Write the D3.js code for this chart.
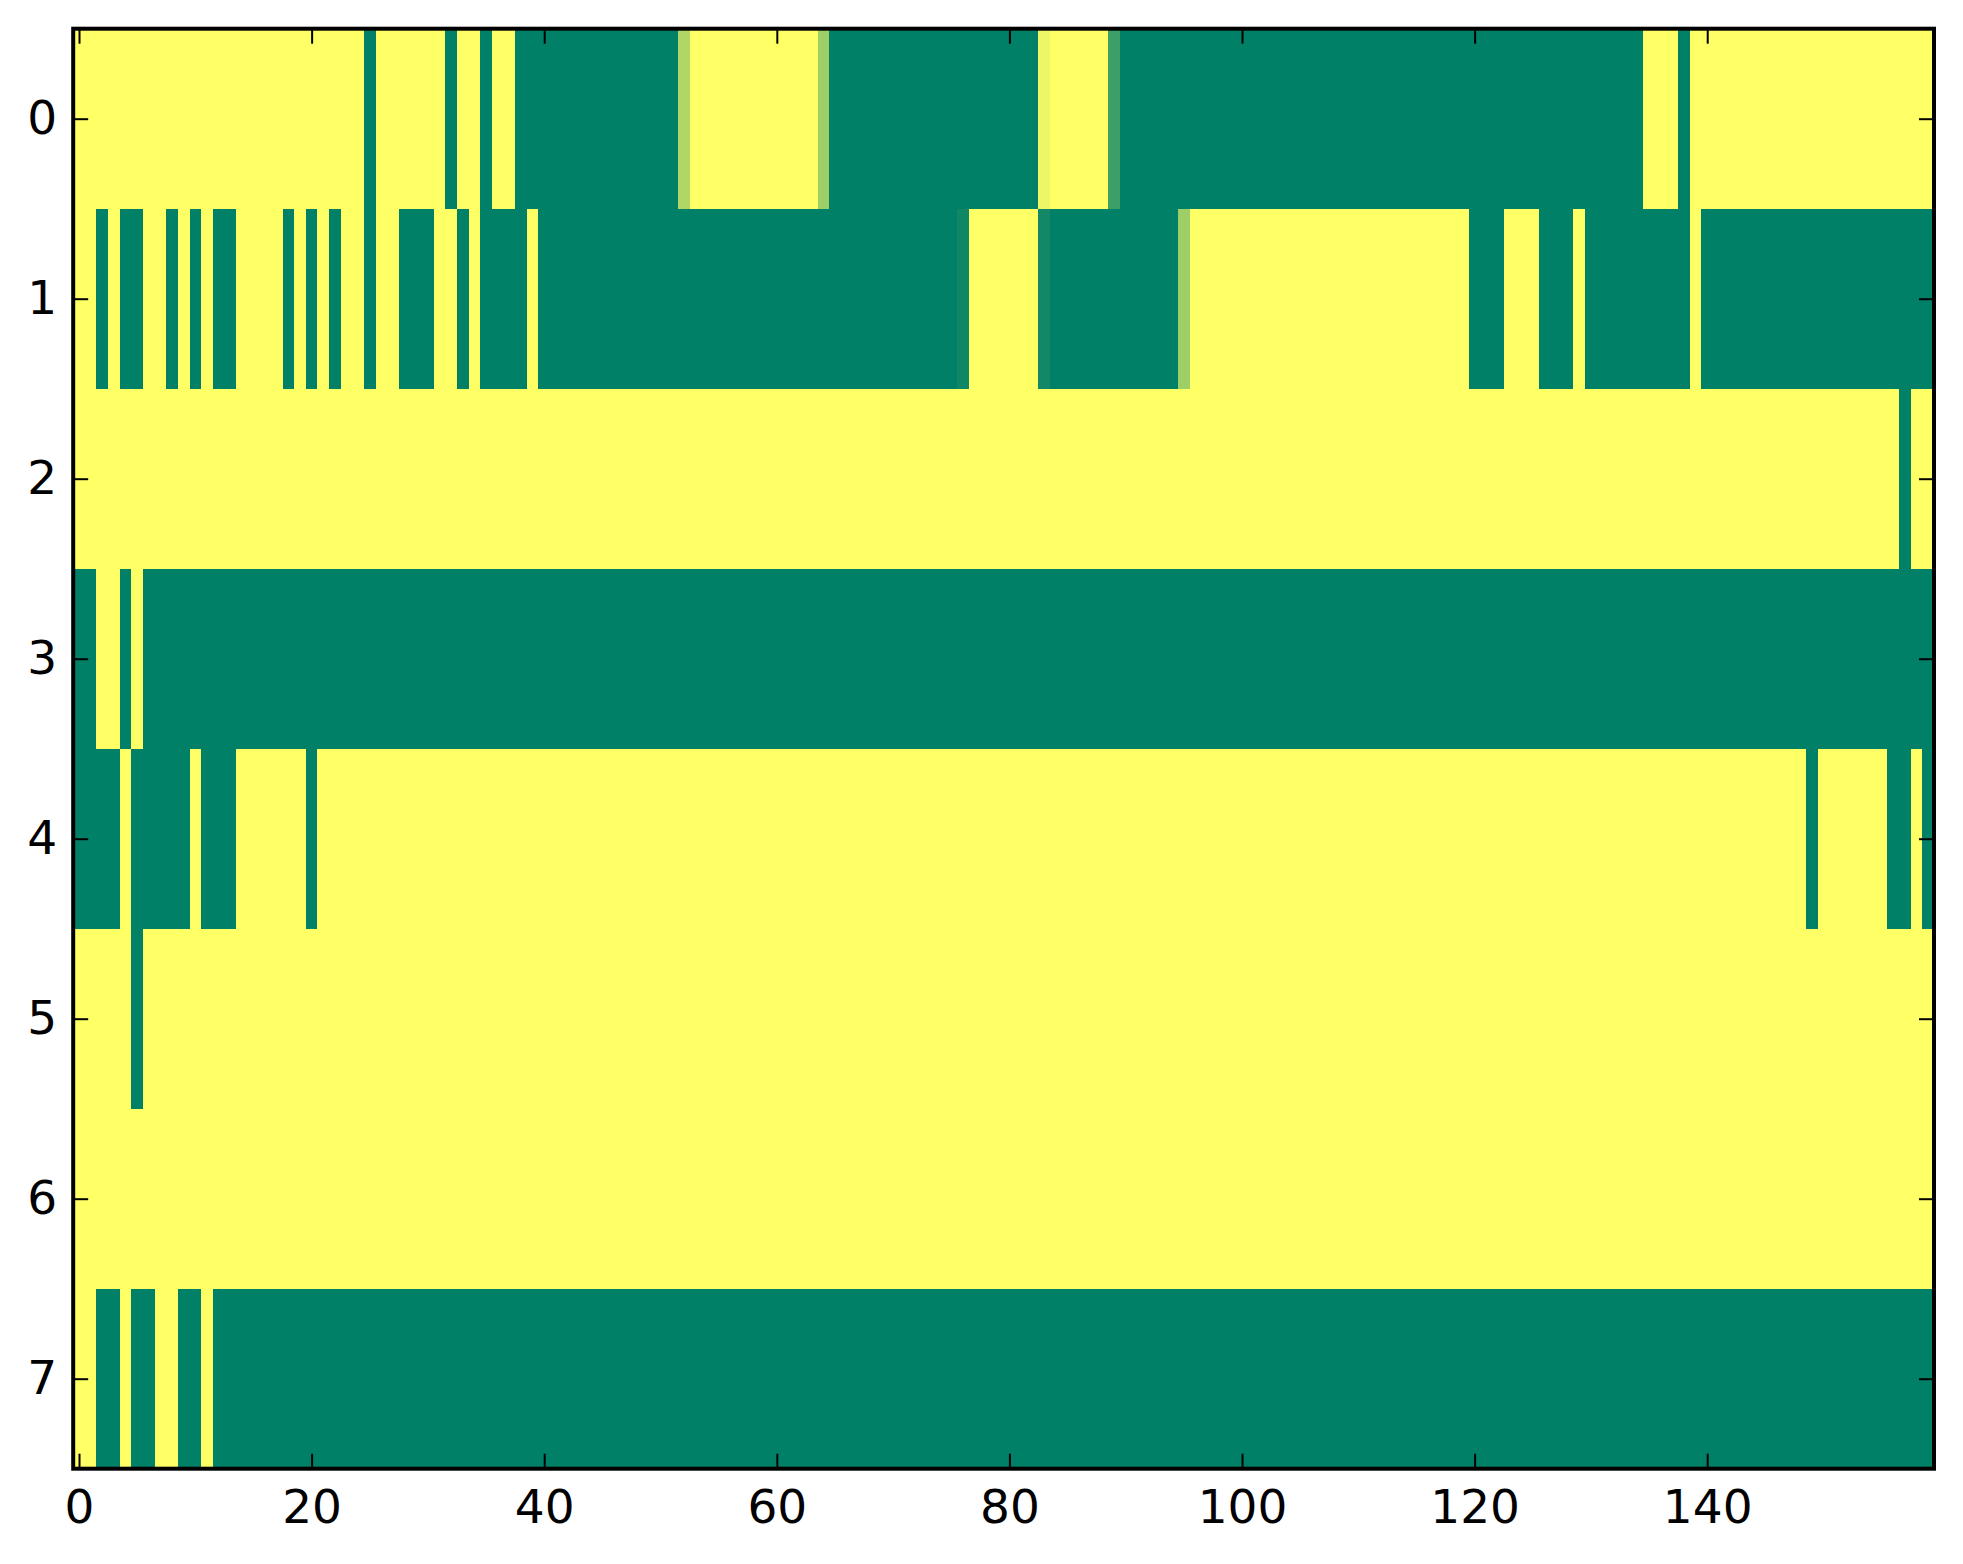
<!DOCTYPE html>
<html>
<head>
<meta charset="utf-8">
<script src="https://cdn.jsdelivr.net/npm/d3@7"></script>
<style>
  html, body { margin: 0; padding: 0; background: #ffffff; }
  svg { display: block; }
</style>
</head>
<body>
<svg id="chart" width="1963" height="1564"></svg>
<script>
// ---- data (rows 0..7, columns 0..159), values 0..1 ----
const rowLabels = [0, 1, 2, 3, 4, 5, 6, 7];
const xTickValues = [0, 20, 40, 60, 80, 100, 120, 140];
const yTickValues = [0, 1, 2, 3, 4, 5, 6, 7];

const row0 = [
  1,1,1,1,1,1,1,1,1,1,1,1,1,1,1,1,1,1,1,1,
  1,1,1,1,1,0,1,1,1,1,1,1,0,1,1,0,1,1,0,0,
  0,0,0,0,0,0,0,0,0,0,0,0,0.69,1,1,1,1,1,1,1,
  1,1,1,1,0.62,0,0,0,0,0,0,0,0,0,0,0,0,0,0,0,
  0,0,0,0.93,1,1,1,1,1,0.24,0,0,0,0,0,0,0,0,0,0,
  0,0,0,0,0,0,0,0,0,0,0,0,0,0,0,0,0,0,0,0,
  0,0,0,0,0,0,0,0,0,0,0,0,0,0,0,1,1,1,0,1,
  1,1,1,1,1,1,1,1,1,1,1,1,1,1,1,1,1,1,1,1
];
const row1 = [
  1,1,0,1,0,0,1,1,0,1,0,1,0,0,1,1,1,1,0,1,
  0,1,0,1,1,0,1,1,0,0,0,1,1,0,1,0,0,0,0,1,
  0,0,0,0,0,0,0,0,0,0,0,0,0,0,0,0,0,0,0,0,
  0,0,0,0,0,0,0,0,0,0,0,0,0,0,0,0,0.06,1,1,1,
  1,1,1,0.07,0,0,0,0,0,0,0,0,0,0,0,0.62,1,1,1,1,
  1,1,1,1,1,1,1,1,1,1,1,1,1,1,1,1,1,1,1,1,
  0,0,0,1,1,1,0,0,0,1,0,0,0,0,0,0,0,0,0,1,
  0,0,0,0,0,0,0,0,0,0,0,0,0,0,0,0,0,0,0,0
];
const row2 = [
  1,1,1,1,1,1,1,1,1,1,1,1,1,1,1,1,1,1,1,1,
  1,1,1,1,1,1,1,1,1,1,1,1,1,1,1,1,1,1,1,1,
  1,1,1,1,1,1,1,1,1,1,1,1,1,1,1,1,1,1,1,1,
  1,1,1,1,1,1,1,1,1,1,1,1,1,1,1,1,1,1,1,1,
  1,1,1,1,1,1,1,1,1,1,1,1,1,1,1,1,1,1,1,1,
  1,1,1,1,1,1,1,1,1,1,1,1,1,1,1,1,1,1,1,1,
  1,1,1,1,1,1,1,1,1,1,1,1,1,1,1,1,1,1,1,1,
  1,1,1,1,1,1,1,1,1,1,1,1,1,1,1,1,1,0,1,1
];
const row3 = [
  0,0,1,1,0,1,0,0,0,0,0,0,0,0,0,0,0,0,0,0,
  0,0,0,0,0,0,0,0,0,0,0,0,0,0,0,0,0,0,0,0,
  0,0,0,0,0,0,0,0,0,0,0,0,0,0,0,0,0,0,0,0,
  0,0,0,0,0,0,0,0,0,0,0,0,0,0,0,0,0,0,0,0,
  0,0,0,0,0,0,0,0,0,0,0,0,0,0,0,0,0,0,0,0,
  0,0,0,0,0,0,0,0,0,0,0,0,0,0,0,0,0,0,0,0,
  0,0,0,0,0,0,0,0,0,0,0,0,0,0,0,0,0,0,0,0,
  0,0,0,0,0,0,0,0,0,0,0,0,0,0,0,0,0,0,0,0
];
const row4 = [
  0,0,0,0,1,0,0,0,0,0,1,0,0,0,1,1,1,1,1,1,
  0,1,1,1,1,1,1,1,1,1,1,1,1,1,1,1,1,1,1,1,
  1,1,1,1,1,1,1,1,1,1,1,1,1,1,1,1,1,1,1,1,
  1,1,1,1,1,1,1,1,1,1,1,1,1,1,1,1,1,1,1,1,
  1,1,1,1,1,1,1,1,1,1,1,1,1,1,1,1,1,1,1,1,
  1,1,1,1,1,1,1,1,1,1,1,1,1,1,1,1,1,1,1,1,
  1,1,1,1,1,1,1,1,1,1,1,1,1,1,1,1,1,1,1,1,
  1,1,1,1,1,1,1,1,1,0,1,1,1,1,1,1,0,0,1,0
];
const row5 = [
  1,1,1,1,1,0,1,1,1,1,1,1,1,1,1,1,1,1,1,1,
  1,1,1,1,1,1,1,1,1,1,1,1,1,1,1,1,1,1,1,1,
  1,1,1,1,1,1,1,1,1,1,1,1,1,1,1,1,1,1,1,1,
  1,1,1,1,1,1,1,1,1,1,1,1,1,1,1,1,1,1,1,1,
  1,1,1,1,1,1,1,1,1,1,1,1,1,1,1,1,1,1,1,1,
  1,1,1,1,1,1,1,1,1,1,1,1,1,1,1,1,1,1,1,1,
  1,1,1,1,1,1,1,1,1,1,1,1,1,1,1,1,1,1,1,1,
  1,1,1,1,1,1,1,1,1,1,1,1,1,1,1,1,1,1,1,1
];
const row6 = [
  1,1,1,1,1,1,1,1,1,1,1,1,1,1,1,1,1,1,1,1,
  1,1,1,1,1,1,1,1,1,1,1,1,1,1,1,1,1,1,1,1,
  1,1,1,1,1,1,1,1,1,1,1,1,1,1,1,1,1,1,1,1,
  1,1,1,1,1,1,1,1,1,1,1,1,1,1,1,1,1,1,1,1,
  1,1,1,1,1,1,1,1,1,1,1,1,1,1,1,1,1,1,1,1,
  1,1,1,1,1,1,1,1,1,1,1,1,1,1,1,1,1,1,1,1,
  1,1,1,1,1,1,1,1,1,1,1,1,1,1,1,1,1,1,1,1,
  1,1,1,1,1,1,1,1,1,1,1,1,1,1,1,1,1,1,1,1
];
const row7 = [
  1,1,0,0,1,0,0,1,1,0,0,1,0,0,0,0,0,0,0,0,
  0,0,0,0,0,0,0,0,0,0,0,0,0,0,0,0,0,0,0,0,
  0,0,0,0,0,0,0,0,0,0,0,0,0,0,0,0,0,0,0,0,
  0,0,0,0,0,0,0,0,0,0,0,0,0,0,0,0,0,0,0,0,
  0,0,0,0,0,0,0,0,0,0,0,0,0,0,0,0,0,0,0,0,
  0,0,0,0,0,0,0,0,0,0,0,0,0,0,0,0,0,0,0,0,
  0,0,0,0,0,0,0,0,0,0,0,0,0,0,0,0,0,0,0,0,
  0,0,0,0,0,0,0,0,0,0,0,0,0,0,0,0,0,0,0,0
];
const rows = [row0, row1, row2, row3, row4, row5, row6, row7];

(function () {
  // ---- layout ----
  const plotLeft = 73.2, plotRight = 1934, plotTop = 28.7, plotBottom = 1468.7;
  const nCols = row0.length;

  const svg = d3.select("#chart");

  const x = d3.scaleLinear().domain([-0.5, nCols - 0.5]).range([plotLeft, plotRight]);
  const y = d3.scaleLinear().domain([-0.5, rowLabels.length - 0.5]).range([plotTop, plotBottom]);

  // matplotlib "summer" colormap
  const summer = v => d3.rgb(Math.round(255 * v), Math.round(255 * (0.5 + 0.5 * v)), 102).toString();
  const color = d3.scaleLinear().domain([0, 1]).range([0, 1]).clamp(true);

  const cells = [];
  rows.forEach((r, ri) => r.forEach((v, ci) => cells.push({ r: rowLabels[ri], c: ci, v })));

  svg.append("g")
    .attr("shape-rendering", "crispEdges")
    .selectAll("rect")
    .data(cells)
    .join("rect")
    .attr("x", d => x(d.c - 0.5))
    .attr("y", d => y(d.r - 0.5))
    .attr("width", d => x(d.c + 0.5) - x(d.c - 0.5) + 0.5)
    .attr("height", d => y(d.r + 0.5) - y(d.r - 0.5) + 0.5)
    .attr("fill", d => summer(color(d.v)));

  const fontSize = 47;
  const tickLen = 15;

  function styleAxis(g, showLabels) {
    g.select(".domain").remove();
    g.selectAll(".tick line").attr("stroke", "#000").attr("stroke-width", 2);
    g.selectAll(".tick text")
      .attr("fill", "#000")
      .style("font-family", "'DejaVu Sans', sans-serif")
      .style("font-size", fontSize + "px");
    if (!showLabels) g.selectAll(".tick text").remove();
  }

  svg.append("g")
    .attr("transform", `translate(0,${plotBottom})`)
    .call(d3.axisBottom(x).tickValues(xTickValues).tickSizeInner(-tickLen).tickSizeOuter(0).tickPadding(21).tickFormat(d3.format("d")))
    .call(g => styleAxis(g, true));

  svg.append("g")
    .attr("transform", `translate(0,${plotTop})`)
    .call(d3.axisTop(x).tickValues(xTickValues).tickSizeInner(-tickLen).tickSizeOuter(0))
    .call(g => styleAxis(g, false));

  svg.append("g")
    .attr("transform", `translate(${plotLeft},0)`)
    .call(d3.axisLeft(y).tickValues(yTickValues).tickSizeInner(-tickLen).tickSizeOuter(0).tickPadding(16).tickFormat(d3.format("d")))
    .call(g => styleAxis(g, true));

  svg.append("g")
    .attr("transform", `translate(${plotRight},0)`)
    .call(d3.axisRight(y).tickValues(yTickValues).tickSizeInner(-tickLen).tickSizeOuter(0))
    .call(g => styleAxis(g, false));

  // frame
  svg.append("rect")
    .attr("x", plotLeft).attr("y", plotTop)
    .attr("width", plotRight - plotLeft).attr("height", plotBottom - plotTop)
    .attr("fill", "none").attr("stroke", "#000").attr("stroke-width", 4);
})();
</script>
</body>
</html>
